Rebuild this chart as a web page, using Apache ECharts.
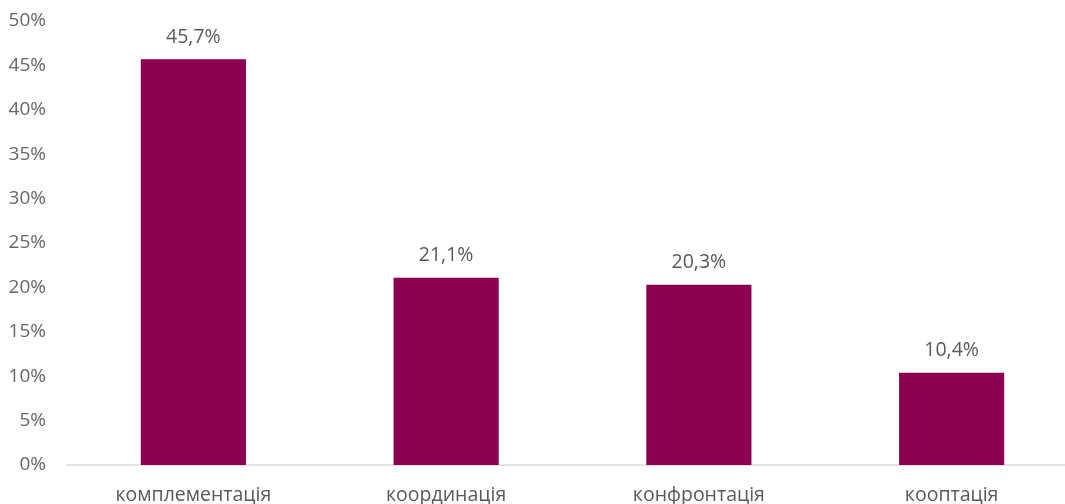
<!DOCTYPE html>
<html><head><meta charset="utf-8">
<script src="https://cdn.jsdelivr.net/npm/echarts@6/dist/echarts.min.js"></script>
<style>html,body{margin:0;padding:0;background:#fff}#c{width:1065px;height:504px}</style>
</head><body><div id="c"></div>
<script>
const categories = ['комплементація', 'координація', 'конфронтація', 'кооптація'];
const values = [45.7, 21.1, 20.3, 10.4];
const yTicks = [0, 5, 10, 15, 20, 25, 30, 35, 40, 45, 50];

const chart = echarts.init(document.getElementById('c'));
chart.setOption({
  animation: false,
  grid: { left: 67, right: -13, top: 21, bottom: 39, containLabel: false, outerBoundsMode: 'none' },
  xAxis: {
    type: 'category',
    data: categories,
    axisLine: { lineStyle: { color: '#d9d9d9', width: 1.5 } },
    axisTick: { show: false },
    axisLabel: { color: '#595959', fontSize: 19.5, fontFamily: 'Open Sans', margin: 20 }
  },
  yAxis: {
    type: 'value',
    min: yTicks[0], max: yTicks[yTicks.length - 1], interval: 5,
    splitLine: { show: false },
    axisLine: { show: false },
    axisTick: { show: false },
    axisLabel: { color: '#666666', fontSize: 19, fontFamily: 'Open Sans', margin: 21,
      formatter: v => v + '%' }
  },
  series: [{
    type: 'bar',
    data: values,
    barWidth: '41.6%',
    itemStyle: { color: '#8B0052' },
    label: { show: true, position: 'top', distance: 12, color: '#595959', fontSize: 19.5,
      fontFamily: 'Open Sans', formatter: p => p.value.toFixed(1).replace('.', ',') + '%' }
  }]
});
</script></body></html>
